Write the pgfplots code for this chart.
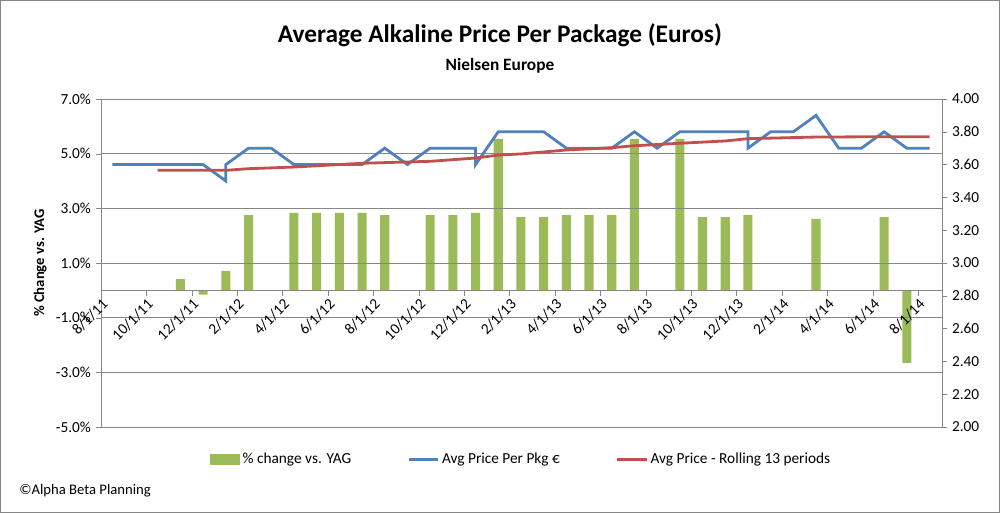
\documentclass[border=0pt]{standalone}
\usepackage{pgfplots}
\pgfplotsset{compat=1.18}
\usepackage{fontspec}
\setmainfont{Carlito}
\definecolor{barc}{HTML}{9BBB59}
\definecolor{bluec}{HTML}{4F81BD}
\definecolor{redc}{HTML}{C0504D}
\definecolor{gridc}{HTML}{868686}
\begin{document}
\begin{tikzpicture}[x=1pt,y=1pt]
\draw[gridc, line width=0.6pt] (0.3,0.3) rectangle (749.7,384.45);
\node[font=\fontsize{19}{22}\selectfont\bfseries] at (375,358.5) {Average Alkaline Price Per Package (Euros)};
\node[font=\fontsize{13}{16}\selectfont\bfseries] at (375,335.5) {Nielsen Europe};
\node[font=\fontsize{11}{12}\selectfont, anchor=west] at (11,16.5) {©Alpha Beta Planning};
\begin{axis}[
  at={(75.75pt,64.5pt)}, anchor=south west, scale only axis,
  width=630.75pt, height=246pt,
  xmin=0, xmax=37.05, ymin=-5, ymax=7,
  axis y line*=left, axis x line*=middle,
  hide obscured x ticks=false,
  axis on top,
  axis line style={gridc, -},
  ytick={-5,-3,...,7},
  yticklabel={\pgfmathprintnumber[fixed,fixed zerofill,precision=1]{\tick}\%},
  ymajorgrids, grid style={gridc, line width=0.5pt},
  xtick={0,2,...,36},
  xticklabels={8/1/11,10/1/11,12/1/11,2/1/12,4/1/12,6/1/12,8/1/12,10/1/12,12/1/12,2/1/13,4/1/13,6/1/13,8/1/13,10/1/13,12/1/13,2/1/14,4/1/14,6/1/14,8/1/14},
  x tick label style={rotate=45, anchor=north east, font=\fontsize{11.5}{12}\selectfont, inner sep=1pt},
  y tick label style={font=\fontsize{11.5}{12}\selectfont},
  tick align=outside, major tick length=4pt, tick style={gridc},
  /pgf/number format/assume math mode=true,
  ylabel={\bfseries \% Change vs. YAG}, ylabel style={font=\fontsize{11}{12}\selectfont},
  clip=false,
]
\addplot[ybar, bar width=0.4, fill=barc, draw=none] coordinates {
(3.5,0.41) (4.5,-0.16) (5.5,0.71) (6.5,2.75) (8.5,2.83) (9.5,2.83) (10.5,2.83) (11.5,2.83) (12.5,2.75)
(14.5,2.75) (15.5,2.75) (16.5,2.83) (17.5,5.54) (18.5,2.68) (19.5,2.68) (20.5,2.75) (21.5,2.75) (22.5,2.75)
(23.5,5.54) (25.5,5.54) (26.5,2.68) (27.5,2.68) (28.5,2.75) (31.5,2.61) (34.5,2.68) (35.5,-2.65)};
\end{axis}
\begin{axis}[
  at={(75.75pt,64.5pt)}, anchor=south west, scale only axis,
  width=630.75pt, height=246pt,
  xmin=0, xmax=37.05, ymin=2, ymax=4,
  axis y line*=right, axis x line=none,
  axis line style={gridc, -},
  ytick={2,2.2,...,4.01},
  yticklabel={\pgfmathprintnumber[fixed,fixed zerofill,precision=2]{\tick}},
  y tick label style={font=\fontsize{11.5}{12}\selectfont},
  tick align=outside, major tick length=4pt, tick style={gridc},
  /pgf/number format/assume math mode=true,
  legend style={at={(0.5,-0.098)}, anchor=center, draw=none, font=\fontsize{11.5}{12}\selectfont, legend columns=3,
    /tikz/every even column/.append style={column sep=40pt}},
  legend image code/.code={\draw[#1] (0pt,0pt) -- (22pt,0pt);},
]
\addlegendimage{legend image code/.code={\fill[barc] (0pt,-4pt) rectangle (22pt,4pt);}}
\addlegendentry{\% change vs. YAG}
\addplot[bluec, line width=2.1pt] coordinates {
(0.5,3.60) (1.5,3.60) (2.5,3.60) (3.5,3.60) (4.5,3.60) (5.5,3.50) (5.5,3.60) (6.5,3.70) (7.5,3.70)
(8.5,3.60) (9.5,3.60) (10.5,3.60) (11.5,3.60) (12.5,3.70) (13.5,3.60) (14.5,3.70) (15.5,3.70) (16.5,3.70) (16.5,3.60)
(17.5,3.80) (18.5,3.80) (19.5,3.80) (20.5,3.70) (21.5,3.70) (22.5,3.70) (23.5,3.80) (24.5,3.70)
(25.5,3.80) (26.5,3.80) (27.5,3.80) (28.5,3.80) (28.5,3.70) (29.5,3.80) (30.5,3.80) (31.5,3.90)
(32.5,3.70) (33.5,3.70) (34.5,3.80) (35.5,3.70) (36.5,3.70)};
\addlegendentry{Avg Price Per Pkg €}
\addplot[redc, line width=2.1pt] coordinates {
(2.5,3.565) (5.5,3.565) (6.5,3.575) (8.5,3.585) (11.5,3.608) (14.5,3.62) (16.5,3.64) (17.5,3.658)
(18.5,3.665) (20.5,3.689) (22.5,3.703) (23.5,3.715) (25.5,3.73) (27.5,3.744) (28.5,3.758) (31.5,3.768)
(34.5,3.77) (36.5,3.77)};
\addlegendentry{Avg Price - Rolling 13 periods}
\end{axis}
\end{tikzpicture}
\end{document}
